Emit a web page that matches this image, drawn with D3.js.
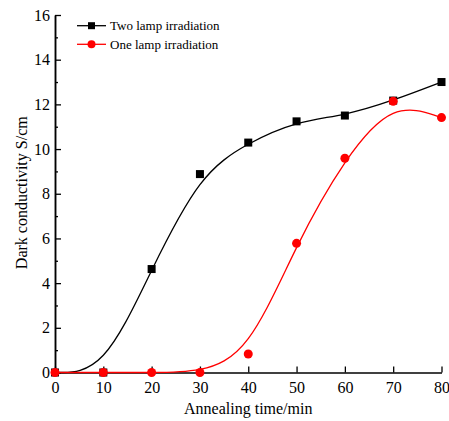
<!DOCTYPE html>
<html>
<head>
<meta charset="utf-8">
<script src="https://cdn.jsdelivr.net/npm/d3@7"></script>
<style>
  html, body { margin: 0; padding: 0; background: #fff; }
  svg { display: block; }
  svg text { font-family: "Liberation Serif", "Times New Roman", serif; }
</style>
</head>
<body>
<svg id="chart" width="449" height="421"></svg>
<script>
// Annealing time (min)
const annealTimes = [0, 10, 20, 30, 40, 50, 60, 70, 80];
// Dark conductivity (S/cm) for each irradiation setup
const twoLamp = [0, 0, 4.63, 8.88, 10.29, 11.24, 11.5, 12.17, 13.0];
const oneLamp = [0, 0, 0, 0, 0.83, 5.78, 9.59, 12.14, 11.41];
const seriesNames = ["Two lamp irradiation", "One lamp irradiation"];
const xTicks = [0, 10, 20, 30, 40, 50, 60, 70, 80];
const yTicks = [0, 2, 4, 6, 8, 10, 12, 14, 16];
const yMinorTicks = [1, 3, 5, 7, 9, 11, 13, 15];

const svg = d3.select("#chart");
const margin = { left: 55, top: 15, right: 7.5, bottom: 48.5 };
const W = 449, H = 421;
const serif = "'Liberation Serif', 'Times New Roman', serif";

const x = d3.scaleLinear().domain([0, 80]).range([margin.left, W - margin.right]);
const y = d3.scaleLinear().domain([0, 16]).range([H - margin.bottom, margin.top]);

// axes with inward ticks
const xAxis = d3.axisBottom(x).tickValues(xTicks).tickSizeInner(-6).tickSizeOuter(0).tickPadding(9);
const yAxis = d3.axisLeft(y).tickValues(yTicks).tickSizeInner(-6).tickSizeOuter(0).tickPadding(5);
const yMinor = d3.axisLeft(y).tickValues(yMinorTicks).tickSizeInner(-3).tickSizeOuter(0).tickFormat("");

function styleAxis(g) {
  g.attr("font-family", serif).attr("font-size", 16);
  g.select(".domain").attr("stroke", "#000").attr("stroke-width", 1.5);
  g.selectAll(".tick line").attr("stroke", "#000").attr("stroke-width", 1.3);
  g.selectAll(".tick text").attr("fill", "#000").style("font-family", serif).style("font-size", "16px");
}

svg.append("g").attr("transform", `translate(${margin.left},0)`).call(yMinor).call(styleAxis);
svg.append("g").attr("transform", `translate(0,${y(0)})`).call(xAxis).call(styleAxis);
svg.append("g").attr("transform", `translate(${margin.left},0)`).call(yAxis).call(styleAxis);

// axis titles
svg.append("text")
  .attr("x", (x(0) + x(80)) / 2).attr("y", 414)
  .attr("text-anchor", "middle").attr("font-size", 16).attr("fill", "#000")
  .text("Annealing time/min");

svg.append("text")
  .attr("transform", `translate(27,${(y(0) + y(16)) / 2 - 1}) rotate(-90)`)
  .attr("text-anchor", "middle").attr("font-size", 16).attr("fill", "#000")
  .text("Dark conductivity S/cm");

// smoothed B-spline curves through the measured points
const line = d3.line().x(d => x(d[0])).y(d => y(d[1])).curve(d3.curveBasis);
const twoData = annealTimes.map((t, i) => [t, twoLamp[i]]);
const oneData = annealTimes.map((t, i) => [t, oneLamp[i]]);

svg.append("path").datum(twoData).attr("d", line)
  .attr("fill", "none").attr("stroke", "#000").attr("stroke-width", 1.3);
svg.append("path").datum(oneData).attr("d", line)
  .attr("fill", "none").attr("stroke", "#ff0000").attr("stroke-width", 1.3);

const sq = 8;
svg.append("g").selectAll("rect").data(twoData).join("rect")
  .attr("x", d => x(d[0]) - sq / 2).attr("y", d => y(d[1]) - sq / 2)
  .attr("width", sq).attr("height", sq).attr("fill", "#000");
svg.append("g").selectAll("circle").data(oneData).join("circle")
  .attr("cx", d => x(d[0])).attr("cy", d => y(d[1])).attr("r", 4.5).attr("fill", "#ff0000");

// legend
const legend = svg.append("g");
const legendRows = [
  { name: seriesNames[0], color: "#000", shape: "square", yPos: 25.7 },
  { name: seriesNames[1], color: "#ff0000", shape: "circle", yPos: 44.3 }
];
legendRows.forEach(r => {
  legend.append("line").attr("x1", 77).attr("x2", 106).attr("y1", r.yPos).attr("y2", r.yPos)
    .attr("stroke", r.color).attr("stroke-width", 1.3);
  if (r.shape === "square") {
    legend.append("rect").attr("x", 91.5 - 3.5).attr("y", r.yPos - 3.5).attr("width", 7).attr("height", 7).attr("fill", r.color);
  } else {
    legend.append("circle").attr("cx", 91.5).attr("cy", r.yPos).attr("r", 4).attr("fill", r.color);
  }
  legend.append("text").attr("x", 110).attr("y", r.yPos).attr("dy", "0.35em")
    .attr("font-size", 13).attr("fill", "#000").text(r.name);
});
</script>
</body>
</html>
